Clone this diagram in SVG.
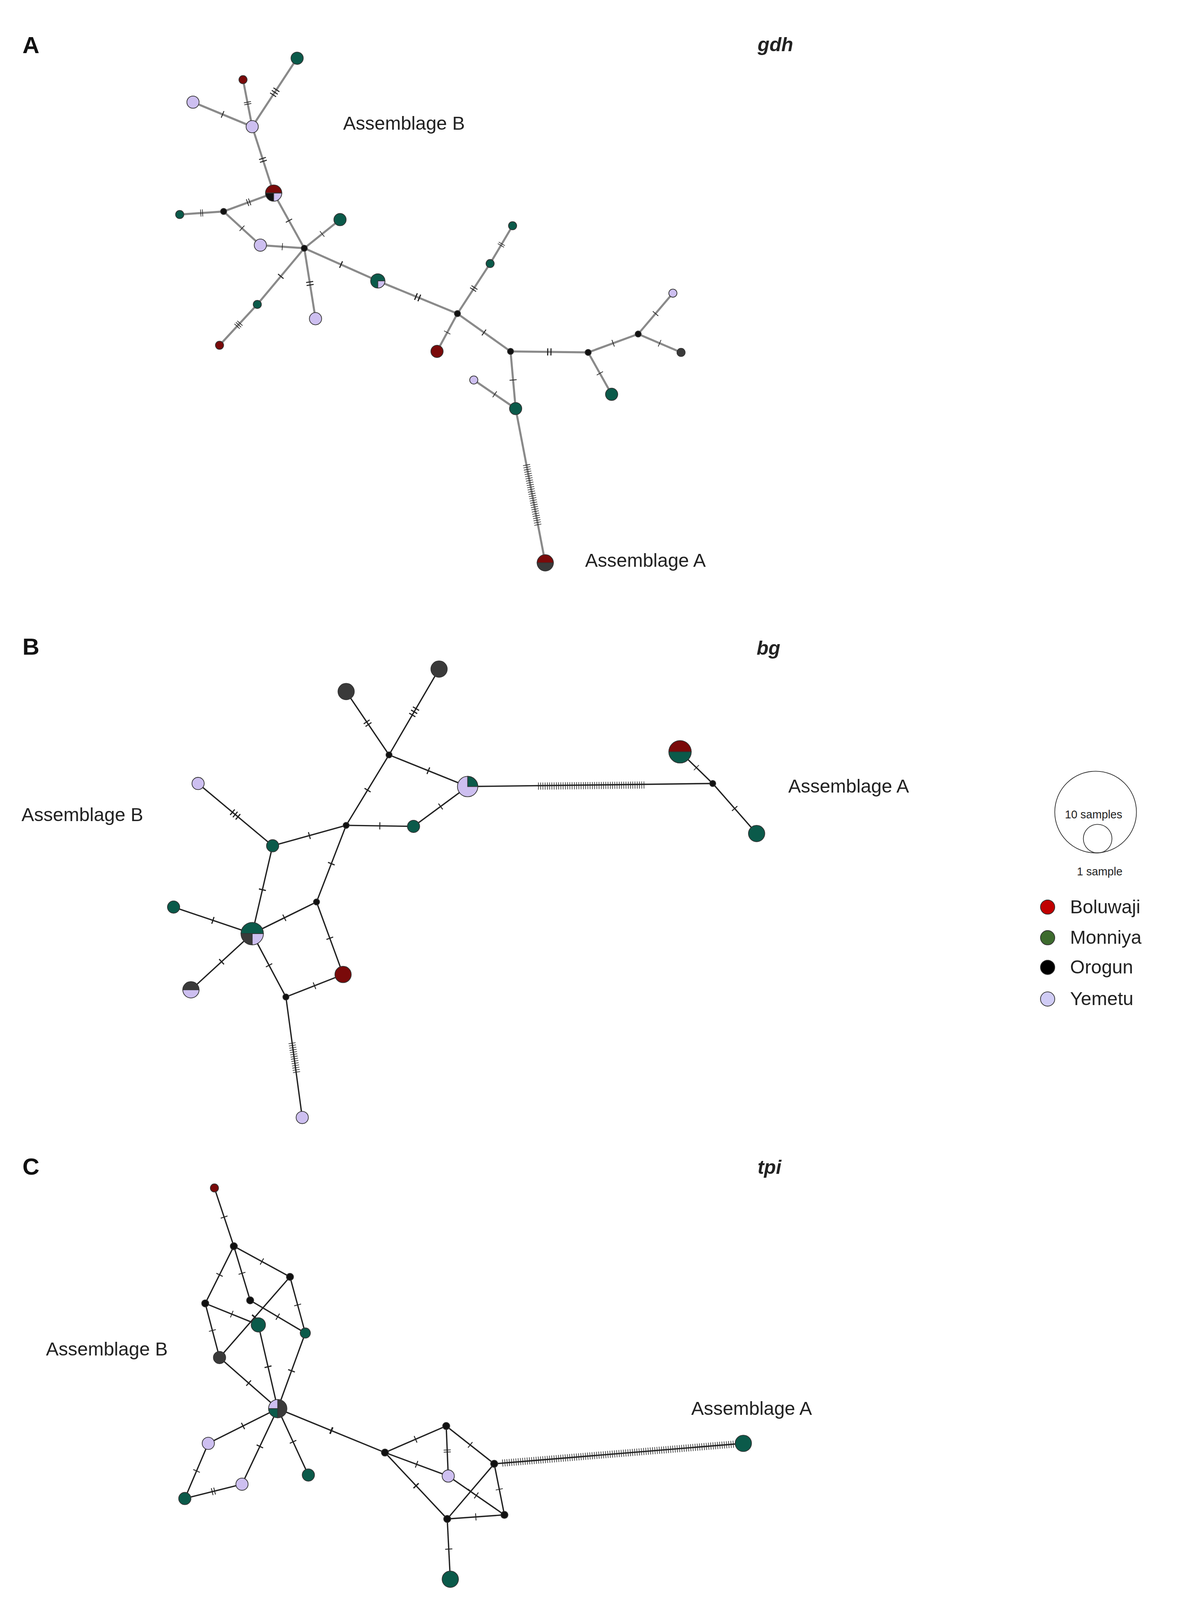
<svg xmlns="http://www.w3.org/2000/svg" width="3063" height="4202" viewBox="0 0 3063 4202">
<style>
.e{stroke:#222;stroke-width:1.3;fill:none}
.g{stroke:#8a8a8a;stroke-width:2;fill:none}
.t1{stroke:#222;stroke-width:7;fill:none;stroke-dasharray:0 49.3 1.4 60}
.t2{stroke:#222;stroke-width:7;fill:none;stroke-dasharray:0 47.2 1.4 2.8 1.4 60}
.t3{stroke:#222;stroke-width:7;fill:none;stroke-dasharray:0 45.5 1.2 2.5 1.2 2.5 1.2 60}
.m{stroke:#222;stroke-width:7;fill:none;stroke-dasharray:0.6 1.6}
.gr{fill:#0b5a4a}.rd{fill:#7a0a0a}.li{fill:#cdbff0}.bk{fill:#111}.dg{fill:#3a3a3a}
circle,path.p{stroke:#333;stroke-width:0.7}
.lab{font-family:"Liberation Sans",Arial,sans-serif;font-size:18.5px;fill:#222}
.pl{font-family:"Liberation Sans",Arial,sans-serif;font-size:23px;font-weight:bold;fill:#111}
.gn{font-family:"Liberation Sans",Arial,sans-serif;font-size:19px;font-weight:bold;font-style:italic;fill:#222}
</style>
<rect width="3063" height="4202" fill="#fff"/>
<g transform="scale(2.615)">
<text class="pl" x="22" y="52">A</text><text class="gn" x="742" y="50">gdh</text>
<text class="lab" x="336" y="127">Assemblage B</text><text class="lab" x="573" y="555">Assemblage A</text>
<text class="pl" x="22" y="641">B</text><text class="gn" x="741" y="641">bg</text>
<text class="lab" x="21" y="804">Assemblage B</text><text class="lab" x="772" y="776">Assemblage A</text>
<text class="pl" x="22" y="1150">C</text><text class="gn" x="742" y="1149">tpi</text>
<text class="lab" x="45" y="1327">Assemblage B</text><text class="lab" x="677" y="1385">Assemblage A</text>

<g id="connectors">
<g id="edgesA" class="g">
<path d="M238,78L247,124"/><path d="M291,57L247,124"/><path d="M189,100L247,124"/><path d="M247,124L268,189"/>
<path d="M268,189L219,207"/><path d="M219,207L176,210"/><path d="M219,207L255,240"/><path d="M255,240L298,243"/>
<path d="M268,189L298,243"/><path d="M333,215L298,243"/><path d="M298,243L252,298"/><path d="M252,298L215,338"/>
<path d="M298,243L309,312"/><path d="M298,243L370,275"/><path d="M370,275L448,307"/><path d="M448,307L480,258"/>
<path d="M480,258L502,221"/><path d="M448,307L428,344"/><path d="M448,307L500,344"/><path d="M500,344L576,345"/>
<path d="M576,345L625,327"/><path d="M625,327L659,287"/><path d="M625,327L667,345"/><path d="M576,345L599,386"/>
<path d="M500,344L505,400"/><path d="M464,372L505,400"/><path d="M505,400L534,551"/>
</g>
<g id="ticksA">
<path class="t2" pathLength="100" d="M238,78L247,124"/><path class="t3" pathLength="100" d="M291,57L247,124"/><path class="t1" pathLength="100" d="M189,100L247,124"/><path class="t2" pathLength="100" d="M247,124L268,189"/>
<path class="t2" pathLength="100" d="M268,189L219,207"/><path class="t2" pathLength="100" d="M219,207L176,210"/><path class="t1" pathLength="100" d="M219,207L255,240"/><path class="t1" pathLength="100" d="M255,240L298,243"/>
<path class="t1" pathLength="100" d="M268,189L298,243"/><path class="t1" pathLength="100" d="M333,215L298,243"/><path class="t1" pathLength="100" d="M298,243L252,298"/><path class="t3" pathLength="100" d="M252,298L215,338"/>
<path class="t2" pathLength="100" d="M298,243L309,312"/><path class="t1" pathLength="100" d="M298,243L370,275"/><path class="t2" pathLength="100" d="M370,275L448,307"/><path class="t2" pathLength="100" d="M448,307L480,258"/>
<path class="t2" pathLength="100" d="M480,258L502,221"/><path class="t1" pathLength="100" d="M448,307L428,344"/><path class="t1" pathLength="100" d="M448,307L500,344"/><path class="t2" pathLength="100" d="M500,344L576,345"/>
<path class="t1" pathLength="100" d="M576,345L625,327"/><path class="t1" pathLength="100" d="M625,327L659,287"/><path class="t1" pathLength="100" d="M625,327L667,345"/><path class="t1" pathLength="100" d="M576,345L599,386"/>
<path class="t1" pathLength="100" d="M500,344L505,400"/><path class="t1" pathLength="100" d="M464,372L505,400"/><path class="m" d="M515.6,455L527,515"/>
</g>
<g id="edgesB" class="e">
<path d="M339,677L381,739"/><path d="M430,655L381,739"/><path d="M381,739L458,770"/><path d="M381,739L339,808L310,883"/>
<path d="M339,808L267,828"/><path d="M339,808L405,809"/><path d="M405,809L458,770"/><path d="M458,770L698,767"/>
<path d="M666,736L698,767"/><path d="M698,767L741,816"/><path d="M194,767L267,828"/><path d="M267,828L247,914"/>
<path d="M310,883L247,914"/><path d="M310,883L336,954"/><path d="M247,914L170,888"/><path d="M247,914L187,969"/>
<path d="M247,914L280,976"/><path d="M280,976L336,954"/><path d="M280,976L296,1094"/>
</g>
<g id="ticksB">
<path class="t2" pathLength="100" d="M339,677L381,739"/><path class="t3" pathLength="100" d="M430,655L381,739"/><path class="t1" pathLength="100" d="M381,739L458,770"/><path class="t1" pathLength="100" d="M381,739L339,808"/>
<path class="t1" pathLength="100" d="M339,808L310,883"/><path class="t1" pathLength="100" d="M339,808L267,828"/><path class="t1" pathLength="100" d="M339,808L405,809"/><path class="t1" pathLength="100" d="M405,809L458,770"/>
<path class="m" d="M527,769.6L632,768.5"/><path class="t1" pathLength="100" d="M666,736L698,767"/><path class="t1" pathLength="100" d="M698,767L741,816"/><path class="t3" pathLength="100" d="M194,767L267,828"/>
<path class="t1" pathLength="100" d="M267,828L247,914"/><path class="t1" pathLength="100" d="M310,883L247,914"/><path class="t1" pathLength="100" d="M310,883L336,954"/><path class="t1" pathLength="100" d="M247,914L170,888"/>
<path class="t1" pathLength="100" d="M247,914L187,969"/><path class="t1" pathLength="100" d="M247,914L280,976"/><path class="t1" pathLength="100" d="M280,976L336,954"/><path class="m" d="M286,1021L290.5,1050"/>
</g>
<g id="edgesC" class="e">
<path d="M210,1163L229,1220"/><path d="M229,1220L284,1250"/><path d="M229,1220L201,1276"/><path d="M229,1220L245,1273"/>
<path d="M201,1276L253,1297"/><path d="M201,1276L215,1329"/><path d="M245,1273L299,1305"/><path d="M284,1250L215,1329"/>
<path d="M284,1250L299,1305"/><path d="M253,1297L272,1379"/><path d="M299,1305L272,1379"/><path d="M215,1329L272,1379"/>
<path d="M272,1379L204,1413"/><path d="M272,1379L237,1453"/><path d="M272,1379L302,1444"/><path d="M272,1379L377,1422"/>
<path d="M204,1413L181,1467"/><path d="M181,1467L237,1453"/><path d="M377,1422L437,1396"/><path d="M377,1422L439,1445"/>
<path d="M377,1422L438,1487"/><path d="M437,1396L484,1433"/><path d="M437,1396L439,1445"/><path d="M439,1445L494,1483"/>
<path d="M484,1433L438,1487"/><path d="M484,1433L494,1483"/><path d="M438,1487L494,1483"/><path d="M438,1487L441,1546"/>
<path d="M484,1433L728,1413"/>
</g>
<g id="ticksC">
<path class="t1" pathLength="100" d="M210,1163L229,1220"/><path class="t1" pathLength="100" d="M229,1220L284,1250"/><path class="t1" pathLength="100" d="M229,1220L201,1276"/><path class="t1" pathLength="100" d="M229,1220L245,1273"/>
<path class="t1" pathLength="100" d="M201,1276L253,1297"/><path class="t1" pathLength="100" d="M201,1276L215,1329"/><path class="t1" pathLength="100" d="M245,1273L299,1305"/><path class="t1" pathLength="100" d="M284,1250L215,1329"/>
<path class="t1" pathLength="100" d="M284,1250L299,1305"/><path class="t1" pathLength="100" d="M253,1297L272,1379"/><path class="t1" pathLength="100" d="M299,1305L272,1379"/><path class="t1" pathLength="100" d="M215,1329L272,1379"/>
<path class="t1" pathLength="100" d="M272,1379L204,1413"/><path class="t1" pathLength="100" d="M272,1379L237,1453"/><path class="t1" pathLength="100" d="M272,1379L302,1444"/><path class="t1" pathLength="100" d="M272,1379L377,1422"/>
<path class="t1" pathLength="100" d="M204,1413L181,1467"/><path class="t2" pathLength="100" d="M181,1467L237,1453"/><path class="t1" pathLength="100" d="M377,1422L437,1396"/><path class="t1" pathLength="100" d="M377,1422L439,1445"/>
<path class="t1" pathLength="100" d="M377,1422L438,1487"/><path class="t1" pathLength="100" d="M437,1396L484,1433"/><path class="t2" pathLength="100" d="M437,1396L439,1445"/><path class="t1" pathLength="100" d="M439,1445L494,1483"/>
<path class="t1" pathLength="100" d="M484,1433L438,1487"/><path class="t1" pathLength="100" d="M484,1433L494,1483"/><path class="t1" pathLength="100" d="M438,1487L494,1483"/><path class="t1" pathLength="100" d="M438,1487L441,1546"/>
<path class="m" d="M492,1432.3L720,1413.7"/>
</g>
</g>

<g id="nodesA">
<g id="a1"><circle class="gr" cx="291" cy="57" r="6"/></g>
<g id="a2"><circle class="rd" cx="238" cy="78" r="4"/></g>
<g id="a3"><circle class="li" cx="189" cy="100" r="6"/></g>
<g id="a4"><circle class="li" cx="247" cy="124" r="6"/></g>
<g id="a5"><path class="p rd" d="M260,189A8,8 0 0 1 276,189Z"/><path class="p bk" d="M268,189L260,189A8,8 0 0 0 268,197Z"/><path class="p li" d="M268,189L268,197A8,8 0 0 0 276,189Z"/></g>
<g id="a6"><circle class="bk" cx="219" cy="207" r="3"/></g>
<g id="a7"><circle class="gr" cx="176" cy="210" r="4"/></g>
<g id="a8"><circle class="gr" cx="333" cy="215" r="6"/></g>
<g id="a9"><circle class="li" cx="255" cy="240" r="6"/></g>
<g id="a10"><circle class="bk" cx="298" cy="243" r="3"/></g>
<g id="a11"><circle class="gr" cx="370" cy="275" r="7"/><path class="p li" d="M370,275L370,282A7,7 0 0 0 377,275Z"/></g>
<g id="a12"><circle class="gr" cx="502" cy="221" r="4"/></g>
<g id="a13"><circle class="gr" cx="480" cy="258" r="4"/></g>
<g id="a14"><circle class="bk" cx="448" cy="307" r="3"/></g>
<g id="a15"><circle class="gr" cx="252" cy="298" r="4"/></g>
<g id="a16"><circle class="li" cx="309" cy="312" r="6"/></g>
<g id="a17"><circle class="rd" cx="215" cy="338" r="4"/></g>
<g id="a18"><circle class="rd" cx="428" cy="344" r="6"/></g>
<g id="a19"><circle class="bk" cx="500" cy="344" r="3"/></g>
<g id="a20"><circle class="bk" cx="576" cy="345" r="3"/></g>
<g id="a21"><circle class="bk" cx="625" cy="327" r="3"/></g>
<g id="a22"><circle class="li" cx="659" cy="287" r="4"/></g>
<g id="a23"><circle class="dg" cx="667" cy="345" r="4"/></g>
<g id="a24"><circle class="gr" cx="599" cy="386" r="6"/></g>
<g id="a25"><circle class="li" cx="464" cy="372" r="4"/></g>
<g id="a26"><circle class="gr" cx="505" cy="400" r="6"/></g>
<g id="a27"><path class="p rd" d="M526,551A8,8 0 0 1 542,551Z"/><path class="p dg" d="M526,551A8,8 0 0 0 542,551Z"/></g>
</g>

<g id="nodesB">
<g id="b1"><circle class="dg" cx="339" cy="677" r="8"/></g>
<g id="b2"><circle class="dg" cx="430" cy="655" r="8"/></g>
<g id="b3"><circle class="bk" cx="381" cy="739" r="3"/></g>
<g id="b4"><circle class="li" cx="458" cy="770" r="10"/><path class="p gr" d="M458,770L458,760A10,10 0 0 1 468,770Z"/></g>
<g id="b5"><path class="p rd" d="M655,736A11,11 0 0 1 677,736Z"/><path class="p gr" d="M655,736A11,11 0 0 0 677,736Z"/></g>
<g id="b6"><circle class="bk" cx="698" cy="767" r="3"/></g>
<g id="b7"><circle class="gr" cx="741" cy="816" r="8"/></g>
<g id="b8"><circle class="li" cx="194" cy="767" r="6"/></g>
<g id="b9"><circle class="gr" cx="267" cy="828" r="6"/></g>
<g id="b10"><circle class="bk" cx="339" cy="808" r="3"/></g>
<g id="b11"><circle class="gr" cx="405" cy="809" r="6"/></g>
<g id="b12"><circle class="bk" cx="310" cy="883" r="3"/></g>
<g id="b13"><path class="p gr" d="M236,914A11,11 0 0 1 258,914Z"/><path class="p dg" d="M247,914L236,914A11,11 0 0 0 247,925Z"/><path class="p li" d="M247,914L247,925A11,11 0 0 0 258,914Z"/></g>
<g id="b14"><circle class="gr" cx="170" cy="888" r="6"/></g>
<g id="b15"><path class="p dg" d="M179,969A8,8 0 0 1 195,969Z"/><path class="p li" d="M179,969A8,8 0 0 0 195,969Z"/></g>
<g id="b16"><circle class="rd" cx="336" cy="954" r="8"/></g>
<g id="b17"><circle class="bk" cx="280" cy="976" r="3"/></g>
<g id="b18"><circle class="li" cx="296" cy="1094" r="6"/></g>
</g>

<g id="legend">
<circle cx="1073" cy="795" r="40" fill="none" stroke="#111" stroke-width="1.5"/>
<circle cx="1075" cy="821" r="14" fill="none" stroke="#111" stroke-width="1.5"/>
<text x="1071" y="801" text-anchor="middle" font-family="Liberation Sans,Arial,sans-serif" font-size="11" fill="#222">10 samples</text>
<text x="1077" y="857" text-anchor="middle" font-family="Liberation Sans,Arial,sans-serif" font-size="11" fill="#222">1 sample</text>
<circle cx="1026" cy="888" r="7" fill="#c00000"/><text class="lab" x="1048" y="894">Boluwaji</text>
<circle cx="1026" cy="918" r="7" fill="#3d6b2e"/><text class="lab" x="1048" y="924">Monniya</text>
<circle cx="1026" cy="947" r="7" fill="#000"/><text class="lab" x="1048" y="953">Orogun</text>
<circle cx="1026" cy="978" r="7" fill="#d0ccf5"/><text class="lab" x="1048" y="984">Yemetu</text>
</g>

<g id="nodesC">
<g id="c1"><circle class="rd" cx="210" cy="1163" r="4"/></g>
<g id="c2"><circle class="bk" cx="229" cy="1220" r="3.5"/></g>
<g id="c3"><circle class="bk" cx="284" cy="1250" r="3.5"/></g>
<g id="c4"><circle class="bk" cx="201" cy="1276" r="3.5"/></g>
<g id="c5"><circle class="bk" cx="245" cy="1273" r="3.5"/></g>
<g id="c6"><circle class="gr" cx="253" cy="1297" r="7"/></g>
<g id="c7"><circle class="gr" cx="299" cy="1305" r="5"/></g>
<g id="c8"><circle class="dg" cx="215" cy="1329" r="6"/></g>
<g id="c9"><path class="p dg" d="M272,1370A9,9 0 0 1 272,1388Z"/><path class="p li" d="M272,1379L272,1370A9,9 0 0 0 263,1379Z"/><path class="p gr" d="M272,1379L263,1379A9,9 0 0 0 272,1388Z"/></g>
<g id="c10"><circle class="li" cx="204" cy="1413" r="6"/></g>
<g id="c11"><circle class="li" cx="237" cy="1453" r="6"/></g>
<g id="c12"><circle class="gr" cx="181" cy="1467" r="6"/></g>
<g id="c13"><circle class="gr" cx="302" cy="1444" r="6"/></g>
<g id="c14"><circle class="bk" cx="377" cy="1422" r="3.5"/></g>
<g id="c15"><circle class="bk" cx="437" cy="1396" r="3.5"/></g>
<g id="c16"><circle class="li" cx="439" cy="1445" r="6"/></g>
<g id="c17"><circle class="bk" cx="484" cy="1433" r="3.5"/></g>
<g id="c18"><circle class="bk" cx="438" cy="1487" r="3.5"/></g>
<g id="c19"><circle class="bk" cx="494" cy="1483" r="3.5"/></g>
<g id="c20"><circle class="gr" cx="728" cy="1413" r="8"/></g>
<g id="c21"><circle class="gr" cx="441" cy="1546" r="8"/></g>
</g>
</g>
</svg>
